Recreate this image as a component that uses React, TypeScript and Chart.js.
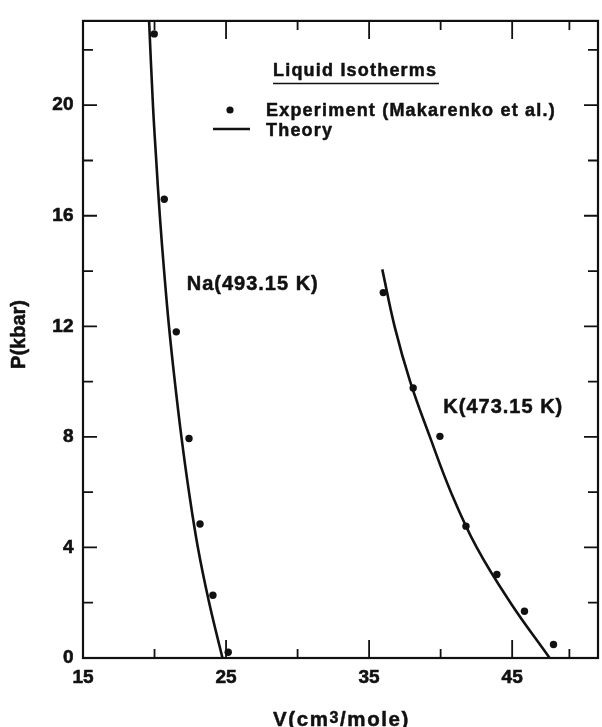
import React, { useEffect, useRef } from 'react';
import { Chart, registerables } from 'chart.js';

Chart.register(...registerables);

// ---- Data (V in cm^3/mole, P in kbar) ----
const naTheoryP = [0, 2, 4, 6, 8, 10, 12, 14, 16, 18, 20, 23.05];
const naTheoryV = [24.75, 23.82, 23.03, 22.41, 21.88, 21.42, 21.01, 20.67, 20.37, 20.12, 19.89, 19.62];

const kTheoryP = [0, 2, 4, 6, 8, 10, 12, 14.06];
const kTheoryV = [47.62, 44.88, 42.52, 40.72, 39.25, 37.87, 36.78, 35.92];

const naExpV = [19.98, 20.68, 21.52, 22.41, 23.18, 24.08, 25.15];
const naExpP = [22.58, 16.6, 11.8, 7.94, 4.85, 2.27, 0.21];

const kExpV = [35.99, 38.08, 39.95, 41.77, 43.93, 45.86, 47.89];
const kExpP = [13.22, 9.77, 8.02, 4.77, 3.02, 1.69, 0.49];

const xLabelTicks = [15, 25, 35, 45];
const xMinorTicks = [20, 30, 40, 49];
const yLabelTicks = [0, 4, 8, 12, 16, 20];
const yMinorTicks = [2, 6, 10, 14, 18, 22];

const legendTitle = 'Liquid Isotherms';
const legendExp = 'Experiment (Makarenko et al.)';
const legendTheory = 'Theory';
const naLabel = 'Na(493.15 K)';
const kLabel = 'K(473.15 K)';
const xTitleMain = 'V(cm';
const xTitleSup = '3';
const xTitleEnd = '/mole)';
const yTitle = 'P(kbar)';

const FONT = "'Liberation Sans', Arial, Helvetica, sans-serif";
const INK = '#111';

const toXY = (xs: number[], ys: number[]) => xs.map((x, i) => ({ x, y: ys[i] }));

const drawText = (ctx: CanvasRenderingContext2D, t: string, x: number, y: number) => {
  ctx.fillText(t, x, y);
  ctx.strokeText(t, x, y);
};

const decorPlugin = {
  id: 'decor',
  afterDraw(chart: any) {
    const ctx: CanvasRenderingContext2D = chart.ctx;
    const xs = chart.scales.x;
    const ys = chart.scales.y;
    const a = chart.chartArea;
    ctx.save();
    ctx.strokeStyle = INK;
    ctx.fillStyle = INK;

    // frame
    ctx.lineWidth = 2.2;
    ctx.strokeRect(a.left, a.top, a.right - a.left, a.bottom - a.top);

    // ticks (inward)
    ctx.lineWidth = 1.8;
    const xt = (v: number, len: number) => {
      const p = xs.getPixelForValue(v);
      ctx.beginPath();
      ctx.moveTo(p, a.bottom);
      ctx.lineTo(p, a.bottom - len);
      ctx.moveTo(p, a.top);
      ctx.lineTo(p, a.top + len);
      ctx.stroke();
    };
    const yt = (v: number, len: number) => {
      const p = ys.getPixelForValue(v);
      ctx.beginPath();
      ctx.moveTo(a.left, p);
      ctx.lineTo(a.left + len, p);
      ctx.moveTo(a.right, p);
      ctx.lineTo(a.right - len, p);
      ctx.stroke();
    };
    xLabelTicks.forEach((v) => xt(v, 18));
    xMinorTicks.forEach((v) => xt(v, 9));
    yLabelTicks.forEach((v) => yt(v, 14));
    yMinorTicks.forEach((v) => yt(v, 10));

    // legend
    ctx.lineJoin = 'round';
    (ctx as any).letterSpacing = '1.2px';
    ctx.font = `bold 18px ${FONT}`;
    ctx.textAlign = 'left';
    ctx.textBaseline = 'alphabetic';
    ctx.lineWidth = 0.5;
    drawText(ctx, legendTitle, 273, 76);
    ctx.lineWidth = 1.6;
    ctx.beginPath();
    ctx.moveTo(273, 83.5);
    ctx.lineTo(439, 83.5);
    ctx.stroke();

    ctx.beginPath();
    ctx.arc(230, 110, 3.6, 0, Math.PI * 2);
    ctx.fill();
    ctx.lineWidth = 0.5;
    drawText(ctx, legendExp, 266, 116);

    ctx.lineWidth = 2.6;
    ctx.beginPath();
    ctx.moveTo(213, 129);
    ctx.lineTo(250, 129);
    ctx.stroke();
    ctx.lineWidth = 0.5;
    drawText(ctx, legendTheory, 266, 136);

    // curve labels
    (ctx as any).letterSpacing = '1px';
    ctx.font = `bold 20px ${FONT}`;
    drawText(ctx, naLabel, 186.7, 290);
    drawText(ctx, kLabel, 443.3, 413);

    // x title with superscript
    (ctx as any).letterSpacing = '1.6px';
    ctx.font = `bold 20.5px ${FONT}`;
    let x = 273;
    drawText(ctx, xTitleMain, x, 726);
    x += ctx.measureText(xTitleMain).width;
    ctx.font = `bold 16px ${FONT}`;
    drawText(ctx, xTitleSup, x, 722.5);
    x += ctx.measureText(xTitleSup).width;
    ctx.font = `bold 20.5px ${FONT}`;
    drawText(ctx, xTitleEnd, x, 726);

    // y title
    (ctx as any).letterSpacing = '0px';
    ctx.save();
    ctx.translate(25, 334.5);
    ctx.rotate(-Math.PI / 2);
    ctx.textAlign = 'center';
    ctx.font = `bold 20px ${FONT}`;
    drawText(ctx, yTitle, 0, 0);
    ctx.restore();

    ctx.restore();
  },
};

export default function App() {
  const ref = useRef<HTMLCanvasElement | null>(null);

  useEffect(() => {
    document.body.style.margin = '0';
    const canvas = ref.current;
    if (!canvas) return;
    const lineDs = (label: string, xsArr: number[], ysArr: number[]) => ({
      label,
      data: toXY(xsArr, ysArr),
      showLine: true,
      borderColor: INK,
      borderWidth: 2.6,
      pointRadius: 0,
      tension: 0.4,
      fill: false,
    });
    const ptDs = (label: string, xsArr: number[], ysArr: number[]) => ({
      label,
      data: toXY(xsArr, ysArr),
      showLine: false,
      pointRadius: 3.7,
      pointBackgroundColor: INK,
      pointBorderWidth: 0,
      backgroundColor: INK,
    });
    const tickFont = { family: FONT, size: 19, weight: 'bold' };
    const chart = new Chart(canvas, {
      type: 'scatter',
      data: {
        datasets: [
          lineDs('Na theory', naTheoryV, naTheoryP),
          lineDs('K theory', kTheoryV, kTheoryP),
          ptDs('Na experiment', naExpV, naExpP),
          ptDs('K experiment', kExpV, kExpP),
        ] as any,
      },
      options: {
        animation: false,
        responsive: true,
        maintainAspectRatio: false,
        layout: { padding: { left: 0, top: 11, right: 4, bottom: 0 } },
        plugins: { legend: { display: false }, tooltip: { enabled: false } },
        scales: {
          x: {
            type: 'linear',
            min: 15,
            max: 51,
            grid: { display: false, drawTicks: false },
            border: { display: false },
            afterBuildTicks: (s: any) => {
              s.ticks = xLabelTicks.map((v) => ({ value: v }));
            },
            afterFit: (s: any) => {
              s.height = 69;
            },
            ticks: {
              padding: 8.5,
              color: INK,
              textStrokeColor: INK,
              textStrokeWidth: 0.6,
              maxRotation: 0,
              autoSkip: false,
              font: tickFont,
              callback: (v: any) => String(v),
            },
          },
          y: {
            type: 'linear',
            min: 0,
            max: 23.05,
            grid: { display: false, drawTicks: false },
            border: { display: false },
            afterBuildTicks: (s: any) => {
              s.ticks = yLabelTicks.map((v) => ({ value: v }));
            },
            afterFit: (s: any) => {
              s.width = 83;
            },
            ticks: {
              padding: 9.5,
              color: INK,
              textStrokeColor: INK,
              textStrokeWidth: 0.6,
              autoSkip: false,
              font: tickFont,
              callback: (v: any) => String(v),
            },
          },
        },
      } as any,
      plugins: [decorPlugin],
    });
    return () => chart.destroy();
  }, []);

  return (
    <div style={{ width: 602, height: 727, position: 'relative', background: '#fff' }}>
      <canvas ref={ref} />
    </div>
  );
}
